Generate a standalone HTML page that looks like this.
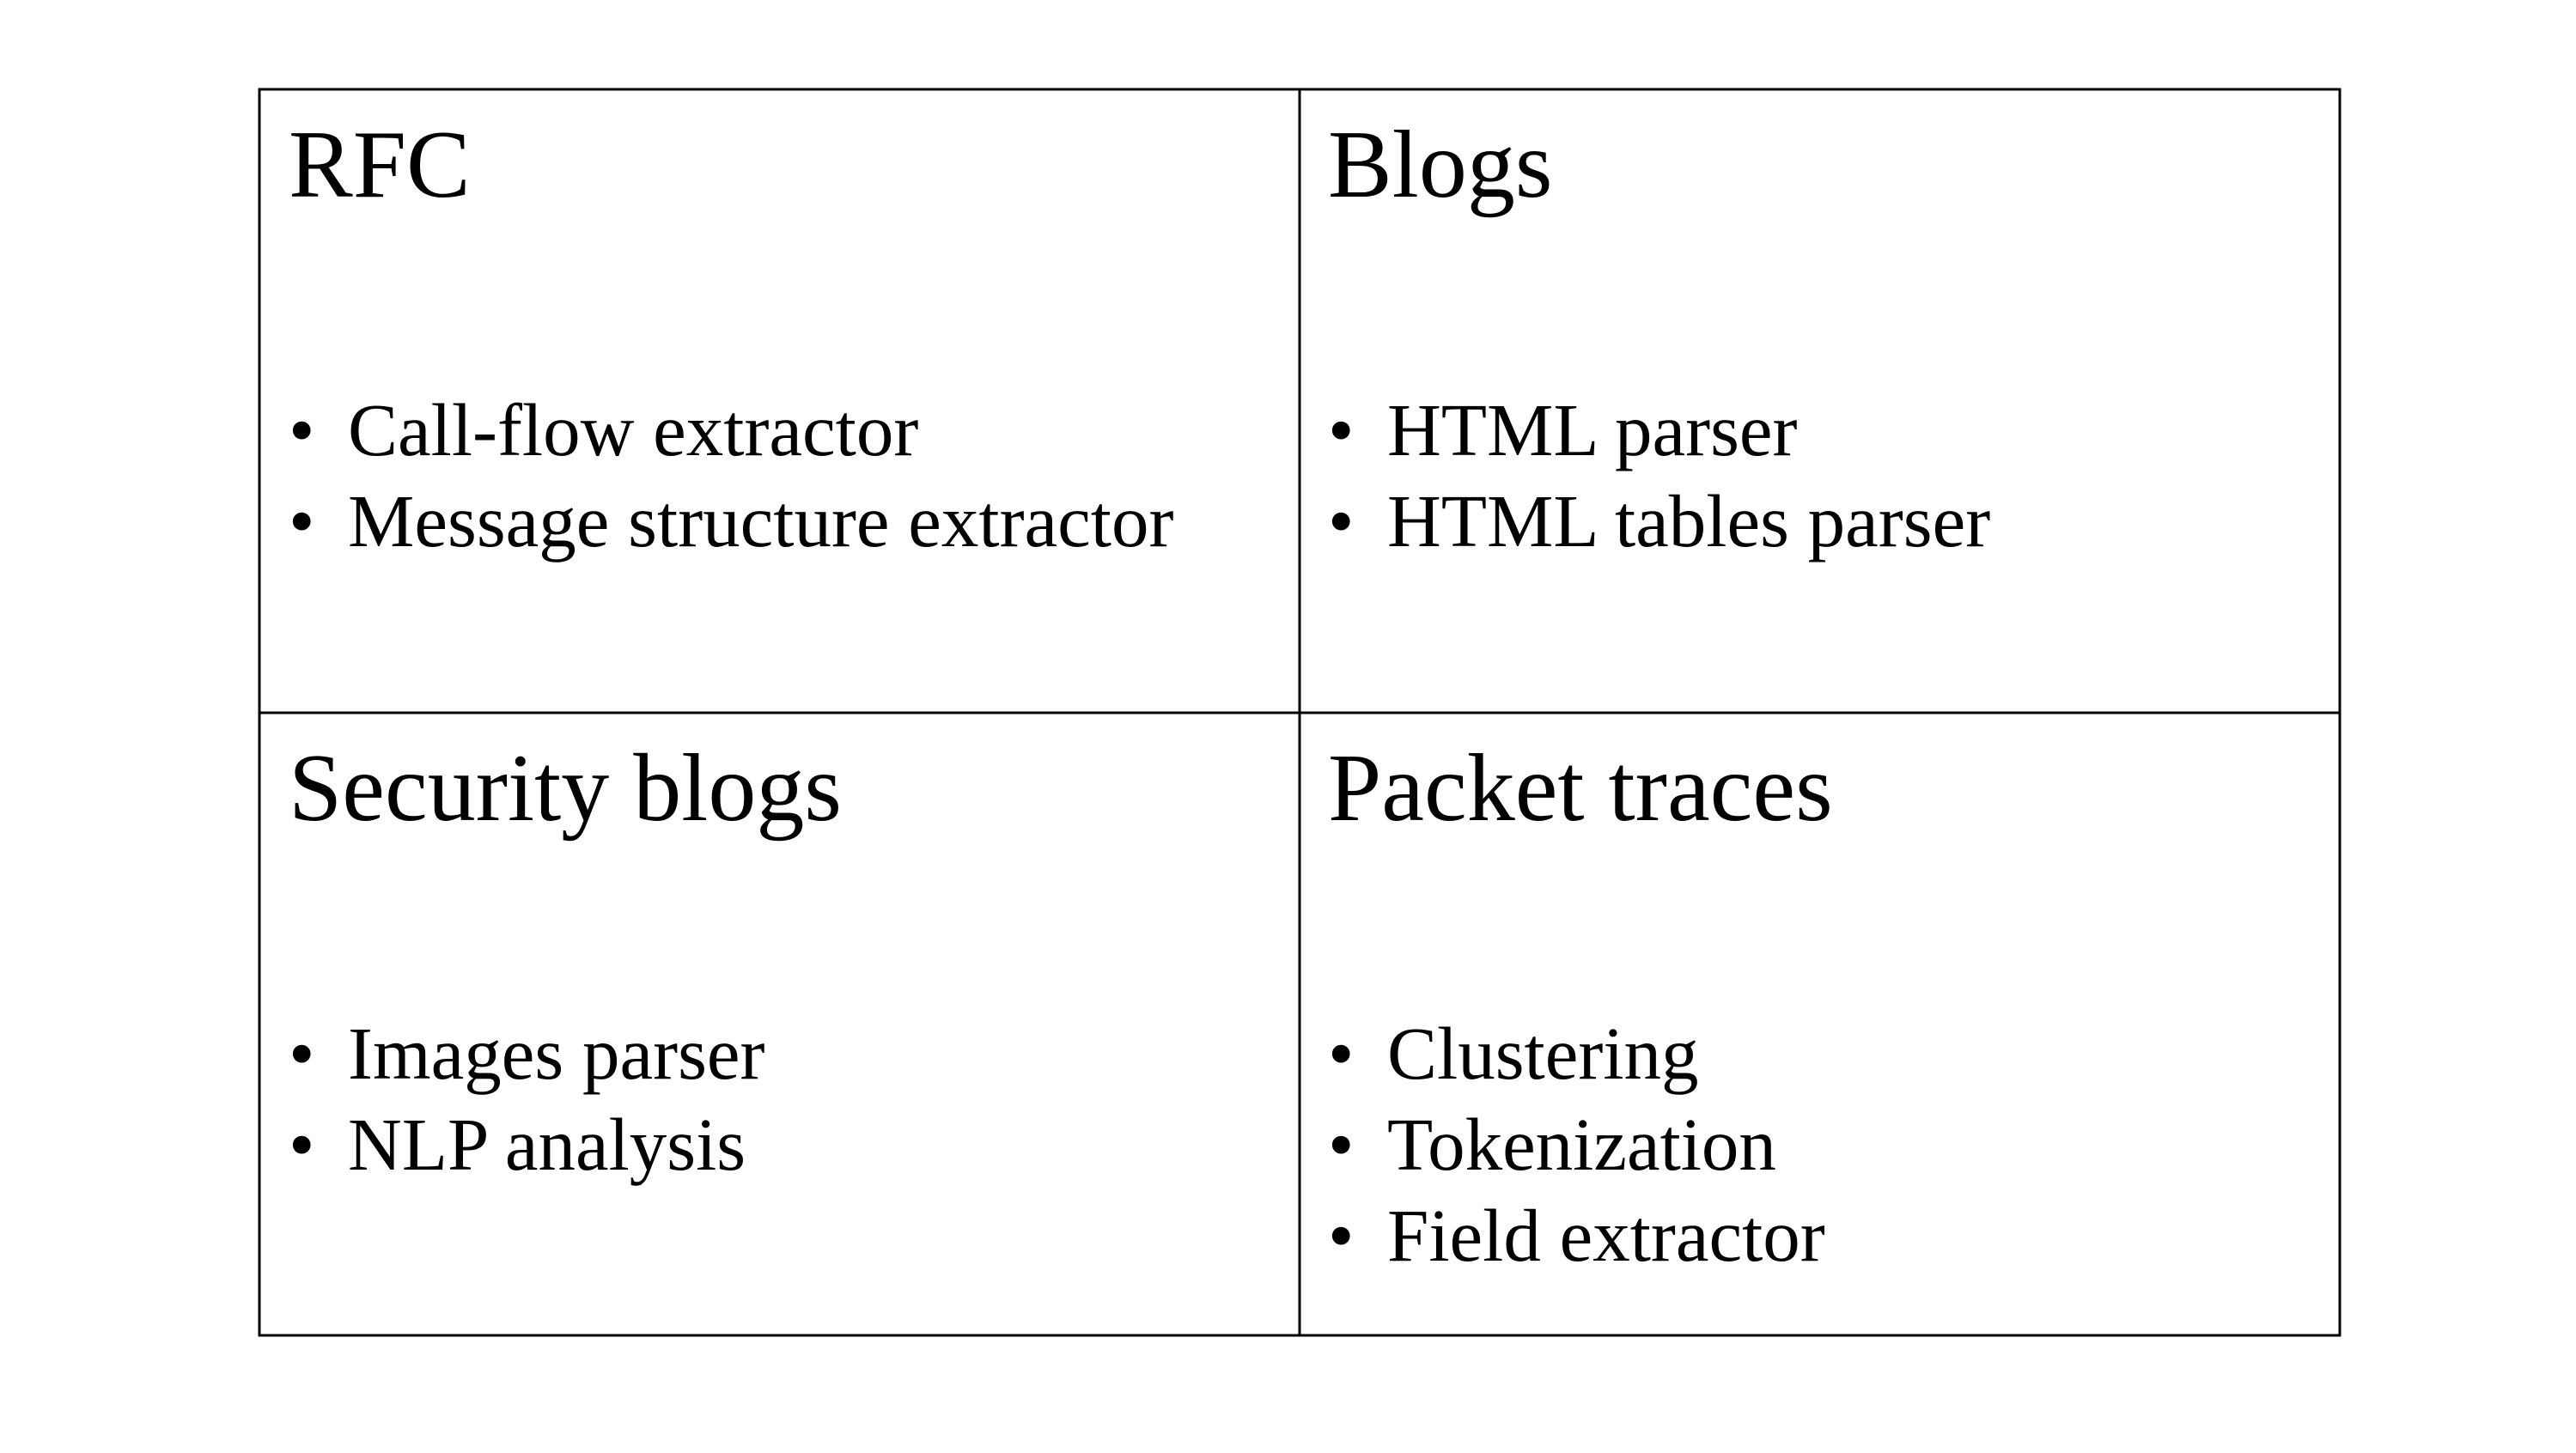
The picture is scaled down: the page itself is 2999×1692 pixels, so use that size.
<!DOCTYPE html>
<html><head><style>html,body{margin:0;padding:0;background:#fff}</style></head>
<body>
<svg width="2999" height="1687" xmlns="http://www.w3.org/2000/svg" font-family="Liberation Serif, serif" fill="#000">
<rect x="302" y="104" width="2422" height="1451" fill="none" stroke="#000" stroke-width="3"/>
<line x1="1513" y1="104" x2="1513" y2="1555" stroke="#000" stroke-width="3"/>
<line x1="302" y1="830" x2="2724" y2="830" stroke="#000" stroke-width="3"/>
<g font-size="112">
<text x="336" y="229">RFC</text>
<text x="1546" y="229">Blogs</text>
<text x="336" y="955">Security blogs</text>
<text x="1546" y="955">Packet traces</text>
</g>
<g font-size="87">
<text x="336" y="530">•</text><text x="405" y="530">Call-flow extractor</text>
<text x="336" y="636">•</text><text x="405" y="636">Message structure extractor</text>
<text x="1546" y="530">•</text><text x="1615" y="530">HTML parser</text>
<text x="1546" y="636">•</text><text x="1615" y="636">HTML tables parser</text>
<text x="336" y="1256">•</text><text x="405" y="1256">Images parser</text>
<text x="336" y="1362">•</text><text x="405" y="1362">NLP analysis</text>
<text x="1546" y="1256">•</text><text x="1615" y="1256">Clustering</text>
<text x="1546" y="1362">•</text><text x="1615" y="1362">Tokenization</text>
<text x="1546" y="1468">•</text><text x="1615" y="1468">Field extractor</text>
</g>
</svg>
</body></html>
